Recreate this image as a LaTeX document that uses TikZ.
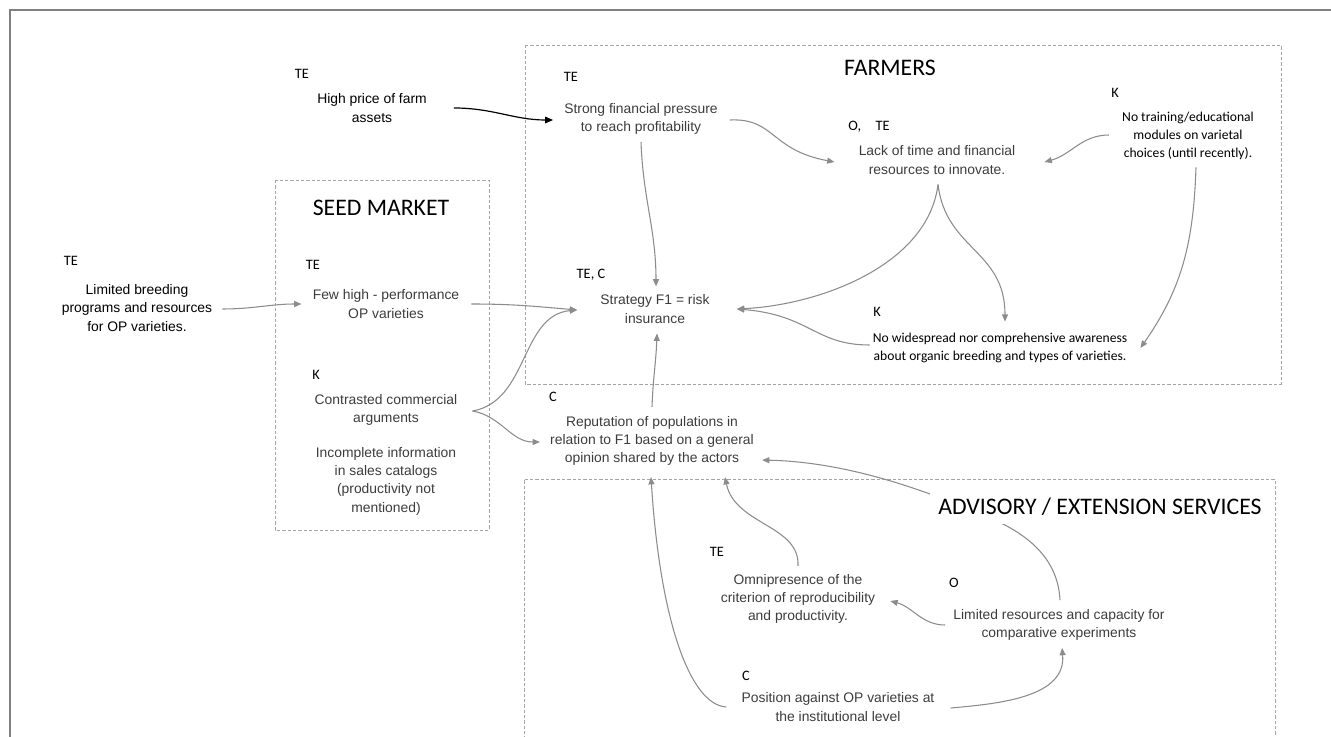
\documentclass[tikz,border=0pt]{standalone}
\usepackage{fontspec}
\setmainfont{Liberation Sans}
\newfontfamily\arialf{Liberation Sans}
\newfontfamily\calf{Carlito}
\usetikzlibrary{arrows.meta}
\definecolor{txtgray}{HTML}{3C3C3C}
\definecolor{linegray}{HTML}{8C8C8C}
\definecolor{boxgray}{HTML}{A6A6A6}
\definecolor{framegray}{HTML}{808080}
\tikzset{
 gtxt/.style={align=center, inner sep=0pt, text=txtgray, font=\arialf\fontsize{10.4}{13.75}\selectfont},
 btxt/.style={gtxt, text=black},
 ctxt/.style={align=center, inner sep=0pt, text=black, font=\calf\fontsize{10.2}{13.75}\selectfont},
 lbl/.style={inner sep=0pt, text=black, font=\calf\fontsize{10.8}{12}\selectfont},
 ttl/.style={inner sep=0pt, text=black, font=\calf\fontsize{17.8}{20}\selectfont},
 conn/.style={draw=linegray, line width=0.8pt, -{Triangle[length=5.5pt,width=4.5pt]}},
 bconn/.style={draw=black, line width=0.9pt, -{Triangle[length=6pt,width=5pt]}},
 grp/.style={draw=boxgray, line width=0.7pt, dash pattern=on 2.5pt off 1.5pt},
}
\begin{document}
\begin{tikzpicture}[x=0.75pt, y=-0.75pt]
\useasboundingbox (0,0) rectangle (1331,737);
% outer frame
\draw[framegray, line width=1.1pt] (10,737) -- (10,10) -- (1331,10);
% group boxes
\draw[grp] (525,45) rectangle (1281,384);
\draw[grp] (275,180) rectangle (489,530);
\draw[grp] (524,745) -- (524,479) -- (1275,479) -- (1275,745);

% labels
\node[lbl] (l1) at (302,74) {TE};
\node[lbl] (l2) at (571,77) {TE};
\node[lbl] (l3) at (869,127) {O,\quad TE};
\node[lbl] (l4) at (1115,93) {K};
\node[lbl] (l5) at (71,261) {TE};
\node[lbl] (l6) at (313,265) {TE};
\node[lbl] (l7) at (591,275) {TE, C};
\node[lbl] (l8) at (877,312) {K};
\node[lbl] (l9) at (316,375) {K};
\node[lbl] (l10) at (553,397) {C};
\node[lbl] (l11) at (717,552) {TE};
\node[lbl] (l12) at (954,583) {O};
\node[lbl] (l13) at (746,676) {C};

% text nodes
\node[btxt] (hp) at (372,108) {High price of farm\\assets};
\node[gtxt] (sfp) at (641,119) {Strong financial pressure\\to reach profitability};
\node[gtxt] (lack) at (937,160) {Lack of time and financial\\resources to innovate.};
\node[ctxt] (ntr) at (1188,136) {No training/educational\\modules on varietal\\choices (until recently).};
\node[btxt] (lbp) at (137,308) {Limited breeding\\programs and resources\\for OP varieties.};
\node[gtxt] (few) at (386,304) {Few high - performance\\OP varieties};
\node[gtxt] (strat) at (655,309) {Strategy F1 = risk\\insurance};
\node[ctxt] (nwa) at (1000,348) {No widespread nor comprehensive awareness\\about organic breeding and types of varieties.};
\node[gtxt] (cca) at (386,410) {Contrasted commercial\\arguments};
\node[gtxt] (inc) at (386,481) {Incomplete information\\in sales catalogs\\(productivity not\\mentioned)};
\node[gtxt] (rep) at (652,441) {Reputation of populations in\\relation to F1 based on a general\\opinion shared by the actors};
\node[gtxt] (omni) at (798,599) {Omnipresence of the\\criterion of reproducibility\\and productivity.};
\node[gtxt] (lrc) at (1059,625) {Limited resources and capacity for\\comparative experiments};
\node[gtxt] (pos) at (838,707) {Position against OP varieties at\\the institutional level};

% titles
\node[ttl] (tfarm) at (890,68) {FARMERS};
\node[ttl] (tseed) at (381,208) {SEED MARKET};

% connectors
\draw[bconn] ([shift={(27,0)}]hp.east) to[out=0,in=180] ([shift={(-11,1)}]sfp.west);
\draw[conn] ([shift={(12,1)}]sfp.east) .. controls (775,118) and (770,150) .. ([shift={(-24,2)}]lack.west);
\draw[conn] ([shift={(0,7)}]sfp.south) to[out=-88,in=90] ([shift={(1,-8)}]strat.north);
\draw[conn] ([shift={(-13,-1)}]ntr.west) to[out=180,in=15] ([shift={(29,2)}]lack.east);
\draw[conn] ([shift={(1,10)}]lack.south) .. controls (928,265) and (820,305) .. ([shift={(27,0)}]strat.east);
\draw[conn] ([shift={(1,10)}]lack.south) .. controls (946,250) and (1005,250) .. ([shift={(5,-11)}]nwa.north);
\draw[conn] ([shift={(8,7)}]ntr.south) to[out=-92,in=55] ([shift={(13,0)}]nwa.east);
\draw[conn] ([shift={(-3,-3)}]nwa.west) .. controls (815,345) and (810,315) .. ([shift={(27,0)}]strat.east);
\draw[conn] ([shift={(12,0)}]few.east) to[out=0,in=175] ([shift={(-23,1)}]strat.west);
\draw[conn] ([shift={(10,1)}]lbp.east) to[out=0,in=180] ([shift={(-11,0)}]few.west);
\draw[conn] ([shift={(15,1)}]cca.east) to[out=10,in=185] ([shift={(-23,1)}]strat.west);
\draw[conn] ([shift={(15,1)}]cca.east) to[out=-10,in=180] ([shift={(-10,1)}]rep.west);
\draw[conn] ([shift={(0,-9)}]rep.north) to[out=88,in=-92] ([shift={(2,10)}]strat.south);
\draw[conn] ([shift={(1,-9)}]lrc.north) .. controls (1058,560) and (1030,535) .. (990,518) .. controls (930,492) and (850,462) .. ([shift={(8,-6)}]rep.south east);
\draw[conn] ([shift={(0,-8)}]omni.north) .. controls (800,525) and (735,525) .. ([shift={(73,11)}]rep.south);
\draw[conn] ([shift={(-8,0)}]lrc.west) to[out=180,in=-15] ([shift={(15,2)}]omni.east);
\draw[conn] ([shift={(-15,0)}]pos.west) .. controls (690,705) and (660,620) .. ([shift={(-1,11)}]rep.south);
\draw[conn] ([shift={(16,1)}]pos.east) to[out=5,in=-85] ([shift={(3,7)}]lrc.south);

% advisory title drawn last (white background hides the connector)
\node[ttl, fill=white, inner sep=6pt] (tadv) at (1100,507) {ADVISORY / EXTENSION SERVICES};
\end{tikzpicture}
\end{document}
